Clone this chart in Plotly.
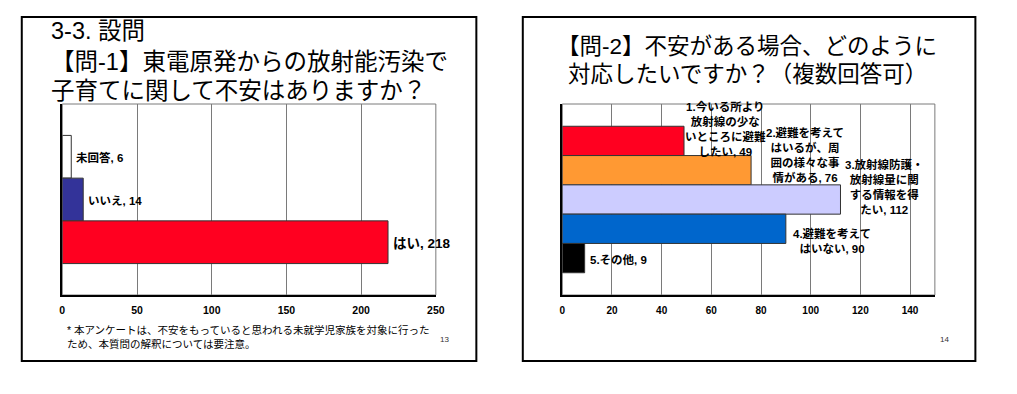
import plotly.graph_objects as go

W, H = 1017, 394

# ---------------- data ----------------
q1_categories = ["未回答", "いいえ", "はい"]
q1_values = [6, 14, 218]
q1_ticks = [0, 50, 100, 150, 200, 250]

q2_categories = [
    "1.今いる所より<br>放射線の少な<br>いところに避難<br>したい",
    "2.避難を考えて<br>はいるが、周<br>囲の様々な事<br>情がある",
    "3.放射線防護・<br>放射線量に関<br>する情報を得<br>たい",
    "4.避難を考えて<br>はいない",
    "5.その他",
]
q2_values = [49, 76, 112, 90, 9]
q2_ticks = [0, 20, 40, 60, 80, 100, 120, 140]

title1_lines = ["3-3. 設問", "【問-1】東電原発からの放射能汚染で", "子育てに関して不安はありますか？"]
title2_lines = ["【問-2】不安がある場合、どのように", "対応したいですか？（複数回答可）"]
footnote = "* 本アンケートは、不安をもっていると思われる未就学児家族を対象に行った<br>ため、本質問の解釈については要注意。"
page_numbers = ["13", "14"]

# ---------------- styles ----------------
q1_colors = ["#FFFFFF", "#333399", "#FF0020"]
q2_colors = ["#FF0020", "#FF9933", "#CCCCFF", "#0066CC", "#000000"]
q1_label_sizes = [11.5, 11.5, 13.5]
q1_label_yshift = [-1, -1, -1]
q2_label_xshift = [-1, 13, 3, 5, 3]
q2_label_yshift = [12, 15, 13, -12, -1]

FONT = "Liberation Sans, Noto Sans CJK JP, sans-serif"
GRID = "#7a7a7a"


def px(x):
    return x / W


def py(y):
    return 1 - y / H


fig = go.Figure()

fig.add_trace(go.Bar(
    orientation="h",
    x=q1_values,
    y=list(range(len(q1_values))),
    width=1,
    marker=dict(color=q1_colors, line=dict(color="#333333", width=1)),
    xaxis="x", yaxis="y",
    showlegend=False, hoverinfo="skip",
))
fig.add_trace(go.Bar(
    orientation="h",
    x=q2_values,
    y=list(range(len(q2_values))),
    width=1,
    marker=dict(color=q2_colors, line=dict(color="#333333", width=1)),
    xaxis="x2", yaxis="y2",
    showlegend=False, hoverinfo="skip",
))

ydom = [py(295), py(104)]
xax_common = dict(
    showgrid=True, gridcolor=GRID, gridwidth=1,
    showline=True, linecolor="black", linewidth=1.5,
    zeroline=False, ticks="", ticklabelstandoff=5,
    tickfont=dict(family=FONT, size=10.5, color="black", weight="bold"),
    fixedrange=True,
)
yax_common = dict(
    showgrid=False, showticklabels=False, zeroline=False,
    showline=True, linecolor="black", linewidth=1.5, ticks="",
    fixedrange=True,
)

fig.update_layout(
    width=W, height=H,
    margin=dict(l=0, r=0, t=0, b=0),
    paper_bgcolor="white", plot_bgcolor="white",
    xaxis=dict(domain=[px(60), px(438)], range=[0, 250], tickvals=q1_ticks,
               anchor="y", **xax_common),
    yaxis=dict(domain=ydom, range=[3.235, -1.235], anchor="x", **yax_common),
    xaxis2=dict(domain=[px(566), px(943)], range=[0, 150], tickvals=q2_ticks,
                anchor="y2", **xax_common),
    yaxis2=dict(domain=ydom, range=[5.26, -1.26], anchor="x2", **yax_common),
)
fig.layout.xaxis2.tickfont.size = 10

shapes = []
# slide borders
for x0, x1 in [(19, 479), (526, 984)]:
    shapes.append(dict(type="rect", xref="paper", yref="paper",
                       x0=px(x0), x1=px(x1), y0=py(361), y1=py(17),
                       line=dict(color="black", width=2), layer="below"))
# plot frames
for xr, yr in [("x domain", "y domain"), ("x2 domain", "y2 domain")]:
    shapes.append(dict(type="rect", xref=xr, yref=yr, x0=0, x1=1, y0=0, y1=1,
                       line=dict(color=GRID, width=1), layer="below"))
fig.update_layout(shapes=shapes)

ann = []
# titles
for text, yc in zip(title1_lines, [30.5, 62, 91]):
    ann.append(dict(text=text, x=px(47), y=py(yc), xref="paper", yref="paper",
                    xanchor="left", yanchor="middle", showarrow=False,
                    font=dict(family=FONT, size=23.5, color="black")))
for text, yc in zip(title2_lines, [46, 74]):
    ann.append(dict(text=text, x=px(753), y=py(yc), xref="paper", yref="paper",
                    xanchor="center", yanchor="middle", showarrow=False,
                    font=dict(family=FONT, size=22.5, color="black")))
# footnote
ann.append(dict(text=footnote, x=px(63), y=py(336.5), xref="paper", yref="paper",
                xanchor="left", yanchor="middle", align="left", showarrow=False,
                font=dict(family=FONT, size=10.5, color="black")))
# page numbers
for text, xc in zip(page_numbers, [447, 953]):
    ann.append(dict(text=text, x=px(xc), y=py(339), xref="paper", yref="paper",
                    xanchor="center", yanchor="middle", showarrow=False,
                    font=dict(family=FONT, size=8, color="#333333")))
# q1 bar labels
for i, (c, v) in enumerate(zip(q1_categories, q1_values)):
    ann.append(dict(text=f"<b>{c}, {v}</b>", x=v, y=i, xref="x", yref="y",
                    xanchor="left", yanchor="middle", xshift=3,
                    yshift=q1_label_yshift[i], showarrow=False,
                    font=dict(family=FONT, size=q1_label_sizes[i], color="black")))
# q2 bar labels
for i, (c, v) in enumerate(zip(q2_categories, q2_values)):
    ann.append(dict(text=f"<b>{c}, {v}</b>", x=v, y=i, xref="x2", yref="y2",
                    xanchor="left", yanchor="middle", align="center",
                    xshift=q2_label_xshift[i], yshift=q2_label_yshift[i],
                    showarrow=False,
                    font=dict(family=FONT, size=11.5, color="black")))
fig.update_layout(annotations=ann)

fig.write_html(
    "out.html",
    config={"displayModeBar": False},
    post_script="document.body.style.margin='0';document.body.style.overflow='hidden';",
)
